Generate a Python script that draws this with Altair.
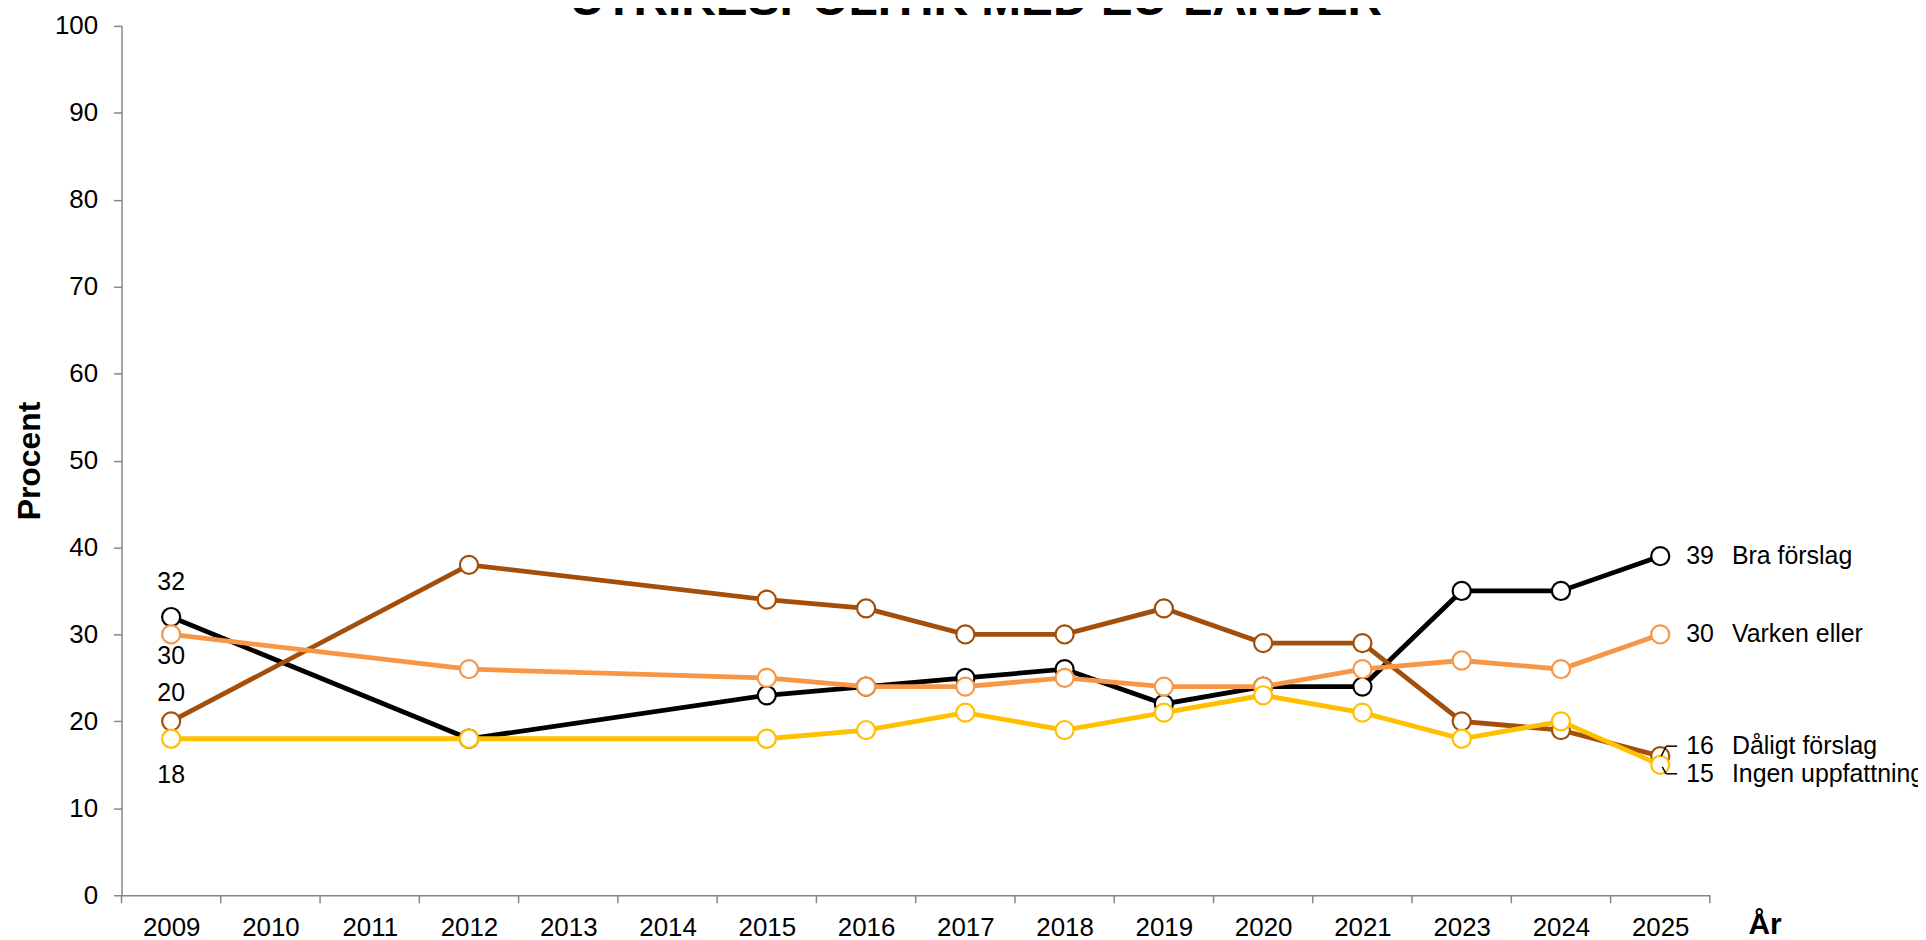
import json
import altair as alt
import pandas as pd

# ---- data ----
years_axis = ["2009", "2010", "2011", "2012", "2013", "2014", "2015", "2016",
              "2017", "2018", "2019", "2020", "2021", "2023", "2024", "2025"]
survey_years = ["2009", "2012", "2015", "2016", "2017", "2018", "2019",
                "2020", "2021", "2023", "2024", "2025"]
series_names = ["Bra förslag", "Dåligt förslag", "Varken eller", "Ingen uppfattning"]
bra = [32, 18, 23, 24, 25, 26, 22, 24, 24, 35, 35, 39]
daligt = [20, 38, 34, 33, 30, 30, 33, 29, 29, 20, 19, 16]
varken = [30, 26, 25, 24, 24, 25, 24, 24, 26, 27, 26, 30]
ingen = [18, 18, 18, 19, 21, 19, 21, 23, 21, 18, 20, 15]
title_text = "UTRIKESPOLITIK MED EU-LÄNDER"
y_title = "Procent"
x_title = "År"

values = [bra, daligt, varken, ingen]
colors = ["#000000", "#A34F0B", "#F79646", "#FFC000"]
# styling: pixel offsets of the first-year label and end label per series
first_dy = [-35, -28, 22, 36]
end_dy = [0, -10, 0, 9]

FONT = "Liberation Sans, Arial, Helvetica, sans-serif"
AXIS_GRAY = "#868686"
W, H = 1595, 873

rows = []
for name, vals in zip(series_names, values):
    for yr, v in zip(survey_years, vals):
        rows.append({"series": name, "year": yr, "idx": years_axis.index(yr), "value": v})
df = pd.DataFrame(rows)

label_expr = json.dumps(years_axis) + "[datum.value]"

x_scale = alt.Scale(domain=[-0.5, len(years_axis) - 0.5], nice=False, zero=False)
y_scale = alt.Scale(domain=[0, 100], nice=False)

x_axis = alt.Axis(values=list(range(len(years_axis))), labelExpr=label_expr,
                  ticks=False, grid=False, domainColor=AXIS_GRAY, domainWidth=1.5,
                  labelFontSize=26, labelColor="#000000", labelFont=FONT,
                  labelPadding=40, labelBaseline="alphabetic", labelFlush=False,
                  labelOverlap=False,
                  title=x_title, titleFont=FONT, titleFontSize=30,
                  titleFontWeight="bold", titleColor="#000000",
                  titleX=W + 55, titleY=38, titleAlign="center",
                  titleBaseline="alphabetic", titleAngle=0)
y_axis = alt.Axis(values=list(range(0, 101, 10)), grid=False,
                  domainColor=AXIS_GRAY, domainWidth=1.5,
                  tickColor=AXIS_GRAY, tickWidth=1.5, tickSize=8,
                  labelFontSize=26, labelColor="#000000", labelFont=FONT,
                  labelPadding=16,
                  title=y_title, titleFont=FONT, titleFontSize=32,
                  titleFontWeight="bold", titleColor="#000000",
                  titleX=-82, titleY=H / 2, titleAlign="center",
                  titleBaseline="alphabetic", titleAngle=270)


def X(field="idx"):
    return alt.X(f"{field}:Q", scale=x_scale, axis=x_axis)


def Y(field="value"):
    return alt.Y(f"{field}:Q", scale=y_scale, axis=y_axis)


layers = []

for name, color in zip(series_names, colors):
    sub = df[df["series"] == name]
    base = alt.Chart(sub)
    layers.append(base.mark_line(color=color, strokeWidth=4.8).encode(x=X(), y=Y(), order="idx:Q"))
    layers.append(base.mark_point(filled=True, fill="white", stroke=color, strokeWidth=2.2,
                                  size=330, opacity=1).encode(x=X(), y=Y()))

# category boundary ticks (Excel style, between categories)
bounds = pd.DataFrame({"b": [i - 0.5 for i in range(len(years_axis) + 1)]})
layers.append(
    alt.Chart(bounds).mark_rule(color=AXIS_GRAY, strokeWidth=1.5).encode(
        x=X("b"), y=alt.value(H), y2=alt.value(H + 8))
)

# first-year labels
for name, dy in zip(series_names, first_dy):
    sub = df[(df["series"] == name) & (df["year"] == survey_years[0])]
    layers.append(
        alt.Chart(sub).mark_text(font=FONT, fontSize=25, color="#000000", dy=dy,
                                 baseline="middle", align="center").encode(
            x=X(), y=Y(), text="value:Q")
    )

# end labels
for name, dy in zip(series_names, end_dy):
    sub = df[(df["series"] == name) & (df["year"] == survey_years[-1])]
    layers.append(
        alt.Chart(sub).mark_text(font=FONT, fontSize=25, color="#000000", dx=26, dy=dy,
                                 baseline="middle", align="left").encode(
            x=X(), y=Y(), text="value:Q")
    )
    layers.append(
        alt.Chart(sub).mark_text(font=FONT, fontSize=25, color="#000000", dx=72, dy=dy,
                                 baseline="middle", align="left").encode(
            x=X(), y=Y(), text="series:N")
    )

# leader lines for the two close end labels
lead_d = df[(df["series"] == "Dåligt förslag") & (df["year"] == survey_years[-1])]
lead_i = df[(df["series"] == "Ingen uppfattning") & (df["year"] == survey_years[-1])]
for sub, (x0, y0, x1, y1, x2) in [(lead_d, (1, 0, 6, -10, 17)), (lead_i, (2, 2, 6, 9, 17))]:
    enc = dict(x=X(), x2="idx:Q", y=Y(), y2="value:Q")
    layers.append(alt.Chart(sub).mark_rule(color="#000000", strokeWidth=1.5,
                                           xOffset=x0, x2Offset=x1, yOffset=y0, y2Offset=y1).encode(**enc))
    layers.append(alt.Chart(sub).mark_rule(color="#000000", strokeWidth=1.5,
                                           xOffset=x1, x2Offset=x2, yOffset=y1, y2Offset=y1).encode(**enc))

# title (partly above the visible area, as in the reference)
tdf = pd.DataFrame({"t": [title_text]})
layers.append(
    alt.Chart(tdf).mark_text(font=FONT, fontSize=48, fontWeight="bold", color="#000000",
                             align="center", baseline="alphabetic").encode(
        x=alt.value(858), y=alt.value(-11), text="t:N")
)

chart = alt.layer(*layers).properties(
    width=W, height=H,
    background="white",
    autosize=alt.AutoSizeParams(type="none"),
    padding={"left": 114, "top": 16, "right": 1918 - 114 - W, "bottom": 932 - 16 - H},
).configure_view(strokeWidth=0, stroke="transparent")

chart.save("out.html", embed_options={"renderer": "svg", "actions": False})
